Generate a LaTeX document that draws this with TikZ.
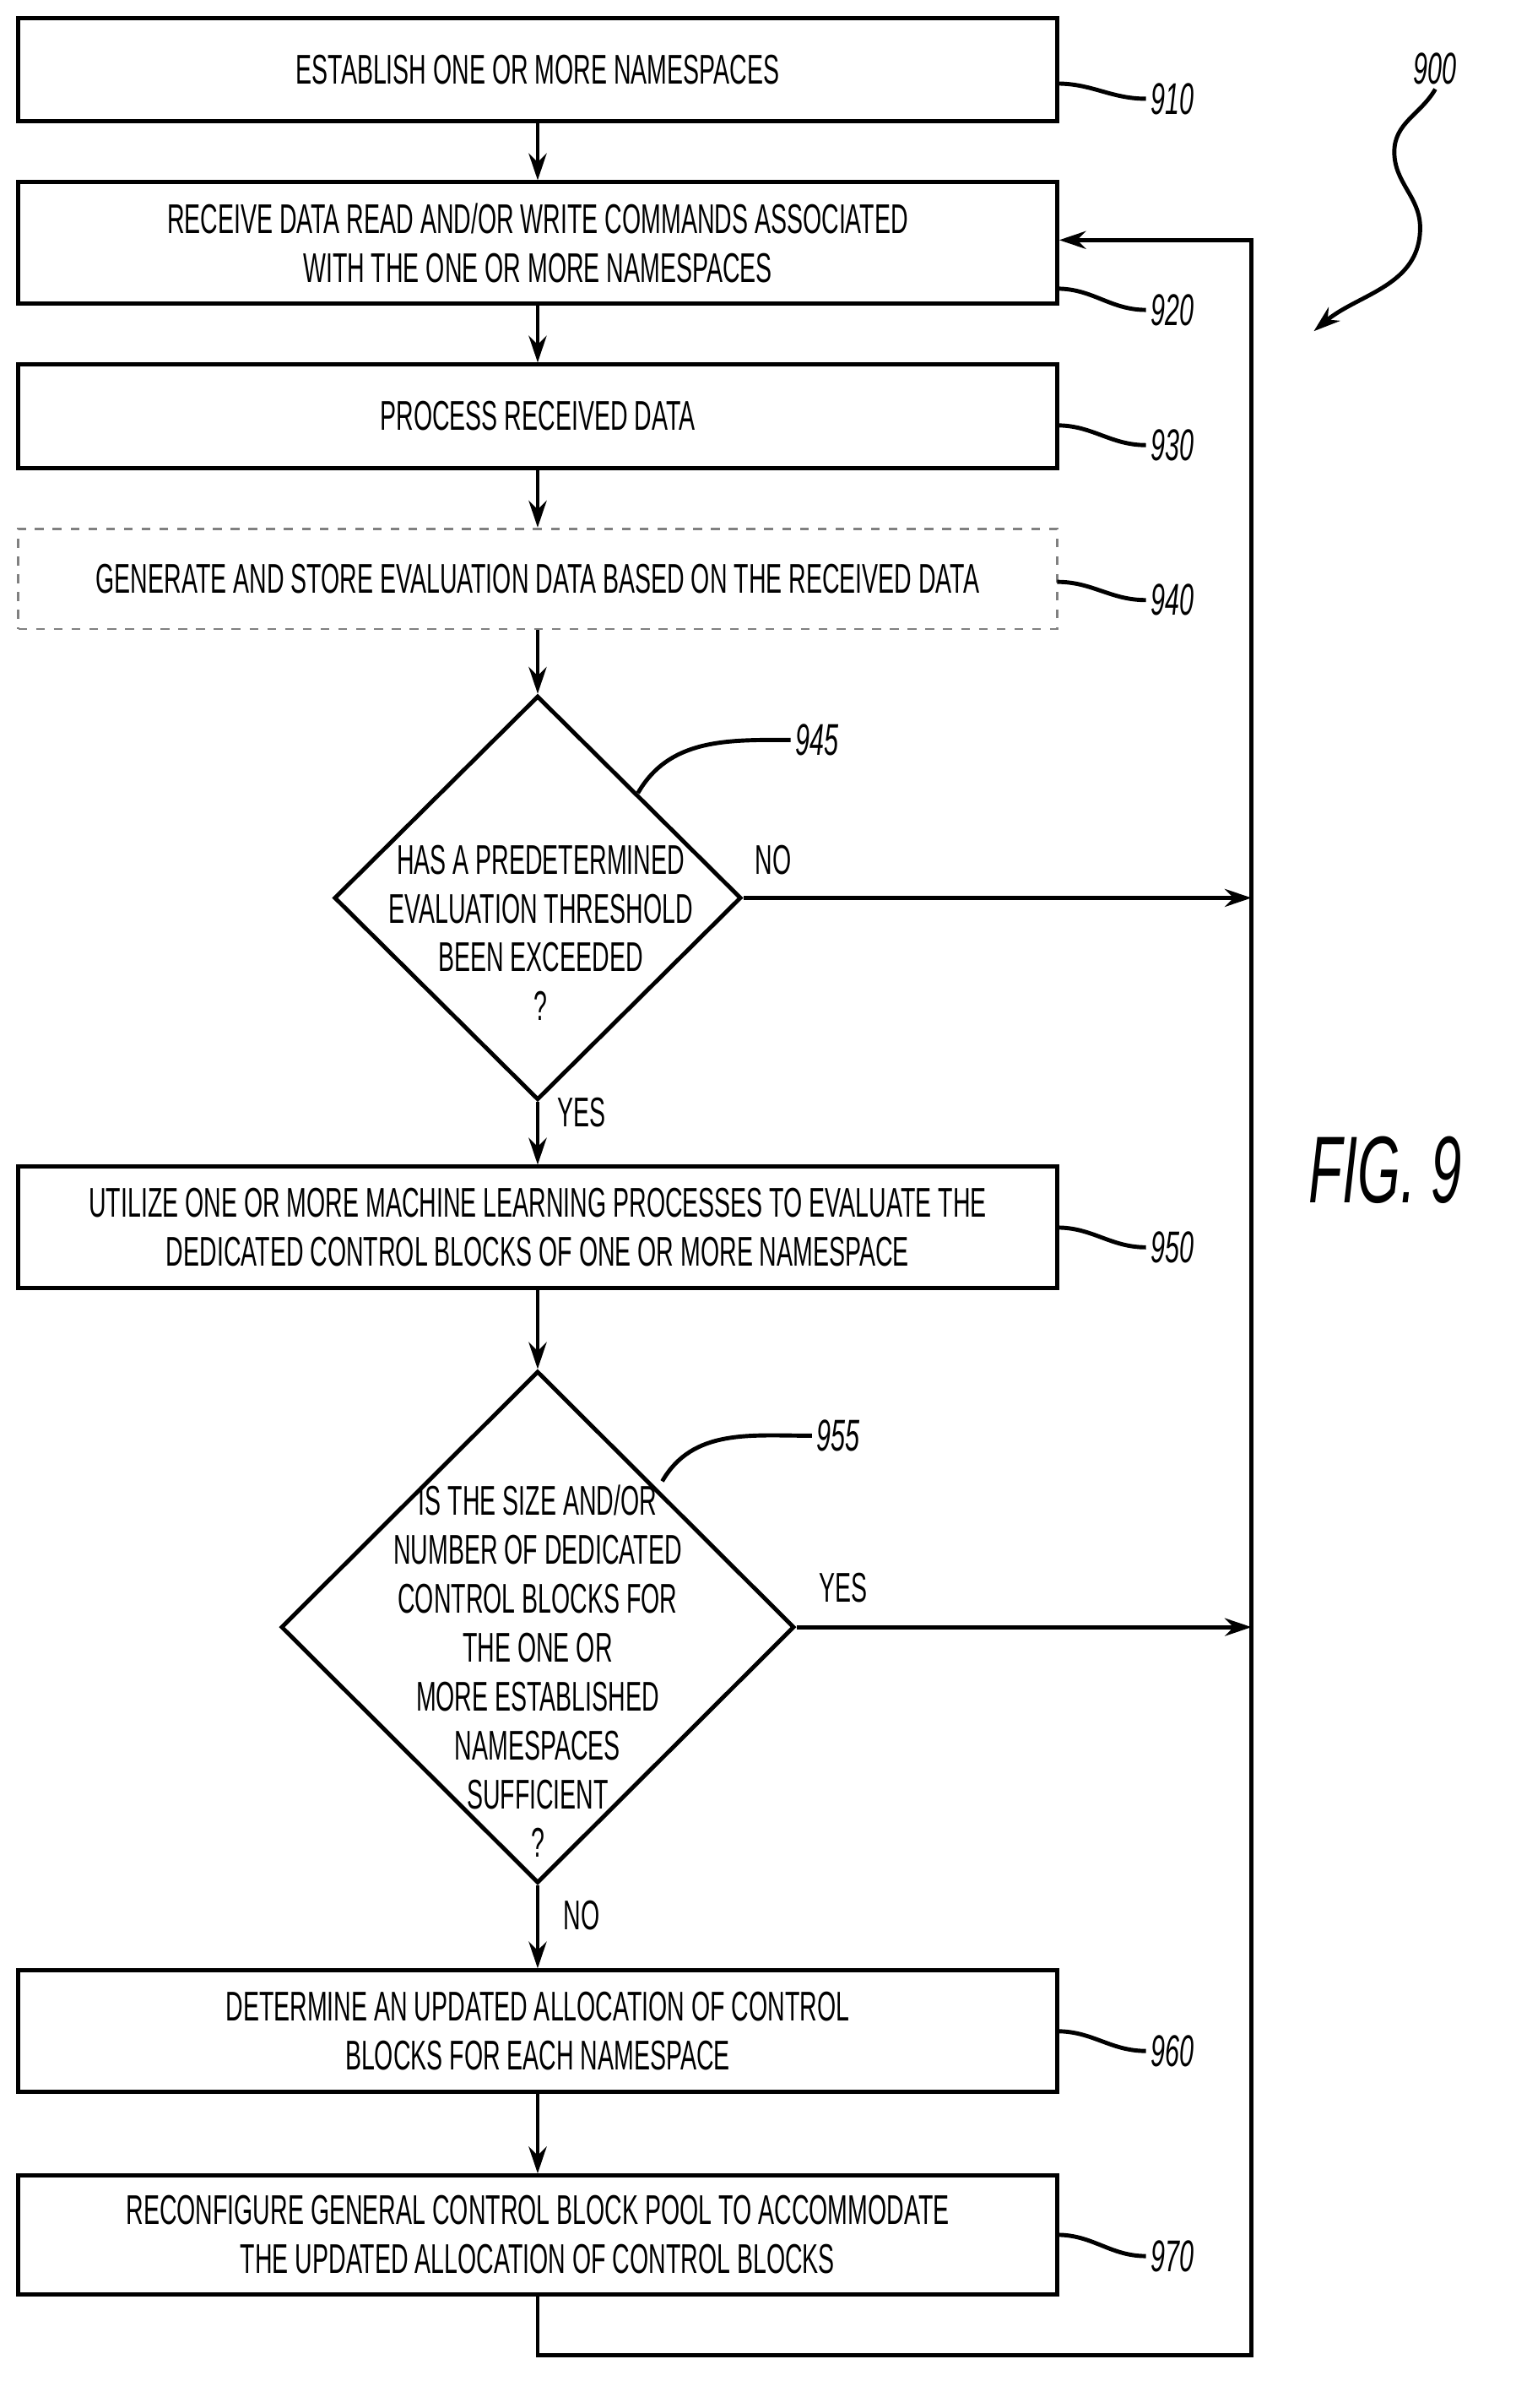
\documentclass[tikz,border=0pt]{standalone}
\usepackage{fontspec}
\setmainfont{Liberation Sans}[FakeStretch=0.58]
\usetikzlibrary{shapes.geometric,arrows.meta}
\begin{document}
\begin{tikzpicture}[x=0.018cm,y=-0.018cm,line width=1.4pt,>={Stealth[length=9pt,width=6pt]}]
	\tikzset{
		proc/.style={rectangle,draw=black,minimum width=684*0.018cm,align=center,font=\fontsize{14}{16.5}\selectfont,inner sep=0pt},
		ask/.style={diamond,draw=black,inner sep=0pt},
		asktext/.style={align=center,font=\fontsize{14}{16.5}\selectfont,inner sep=0pt},
		ref/.style={font=\itshape\fontsize{15}{17}\selectfont,inner sep=1pt},
		ans/.style={font=\fontsize{14}{16}\selectfont,inner sep=1pt}
	}
	\useasboundingbox (0,0) rectangle (998,1585);
	% process steps
	\node(s910)[proc,minimum height=68*0.018cm] at (354,46) {ESTABLISH ONE OR MORE NAMESPACES};
	\node(s920)[proc,minimum height=80*0.018cm] at (354,160) {RECEIVE DATA READ AND/OR WRITE COMMANDS ASSOCIATED\\WITH THE ONE OR MORE NAMESPACES};
	\node(s930)[proc,minimum height=68*0.018cm] at (354,274) {PROCESS RECEIVED DATA};
	\node(s940)[proc,minimum height=66*0.018cm,dashed,line width=0.8pt,draw=gray] at (354,381) {GENERATE AND STORE EVALUATION DATA BASED ON THE RECEIVED DATA};
	\node(d945)[ask,minimum width=268*0.018cm,minimum height=266*0.018cm] at (354,591) {};
	\node(t945)[asktext] at (356,614) {HAS A PREDETERMINED\\EVALUATION THRESHOLD\\BEEN EXCEEDED\\?};
	\node(s950)[proc,minimum height=80*0.018cm] at (354,808) {UTILIZE ONE OR MORE MACHINE LEARNING PROCESSES TO EVALUATE THE\\DEDICATED CONTROL BLOCKS OF ONE OR MORE NAMESPACE};
	\node(d955)[ask,minimum width=338*0.018cm,minimum height=337*0.018cm] at (354,1071) {};
	\node(t955)[asktext] at (354,1100) {IS THE SIZE AND/OR\\NUMBER OF DEDICATED\\CONTROL BLOCKS FOR\\THE ONE OR\\MORE ESTABLISHED\\NAMESPACES\\SUFFICIENT\\?};
	\node(s960)[proc,minimum height=80*0.018cm] at (354,1337) {DETERMINE AN UPDATED ALLOCATION OF CONTROL\\BLOCKS FOR EACH NAMESPACE};
	\node(s970)[proc,minimum height=78*0.018cm] at (354,1471) {RECONFIGURE GENERAL CONTROL BLOCK POOL TO ACCOMMODATE\\THE UPDATED ALLOCATION OF CONTROL BLOCKS};
	% return line
	\coordinate(r1) at (824,1550);
	\coordinate(r2) at (824,158);
	\coordinate(n945) at (824,591);
	\coordinate(n955) at (824,1071);
	\draw[->](s910)--(s920);
	\draw[->](s920)--(s930);
	\draw[->](s930)--(s940);
	\draw[->](s940)--(d945.north);
	\draw[->](d945.south)--(s950);
	\draw[->](s950)--(d955.north);
	\draw[->](d955.south)--(s960);
	\draw[->](s960)--(s970);
	\draw[->](s970.south)|-(r1)--(r2)--(s920.east|-r2);
	\draw[->](d945.east)--(n945);
	\draw[->](d955.east)--(n955);
	% answers
	\node(no945)[ans] at (509,566) {NO};
	\node(yes945)[ans] at (383,732) {YES};
	\node(yes955)[ans] at (555,1045) {YES};
	\node(no955)[ans] at (383,1261) {NO};
	% reference numerals
	\node(l910)[ref] at (772,65) {910};
	\node(l920)[ref] at (772,204) {920};
	\node(l930)[ref] at (772,293) {930};
	\node(l940)[ref] at (772,395) {940};
	\node(l945)[ref] at (538,487) {945};
	\node(l950)[ref] at (772,821) {950};
	\node(l955)[ref] at (552,945) {955};
	\node(l960)[ref] at (772,1350) {960};
	\node(l970)[ref] at (772,1485) {970};
	\node(l900)[ref] at (945,45) {900};
	\draw(696,55) to[out=0,in=180](l910.west);
	\draw(696,190) to[out=0,in=180](l920.west);
	\draw(696,280) to[out=0,in=180](l930.west);
	\draw(696,383) to[out=0,in=180](l940.west);
	\draw(420,522) to[out=60,in=180](l945.west);
	\draw(436,975) to[out=60,in=180](l955.west);
	\draw(696,808) to[out=0,in=180](l950.west);
	\draw(696,1337) to[out=0,in=180](l960.west);
	\draw(696,1471) to[out=0,in=180](l970.west);
	\coordinate(a900) at (865,218);
	\draw[->](l900.south) to[out=-120,in=90](918,100) to[out=-90,in=90](935,150) to[out=-90,in=40](a900);
	\node(fig)[font=\itshape\fontsize{32}{36}\selectfont] at (912,770) {FIG. 9};
\end{tikzpicture}
\end{document}
